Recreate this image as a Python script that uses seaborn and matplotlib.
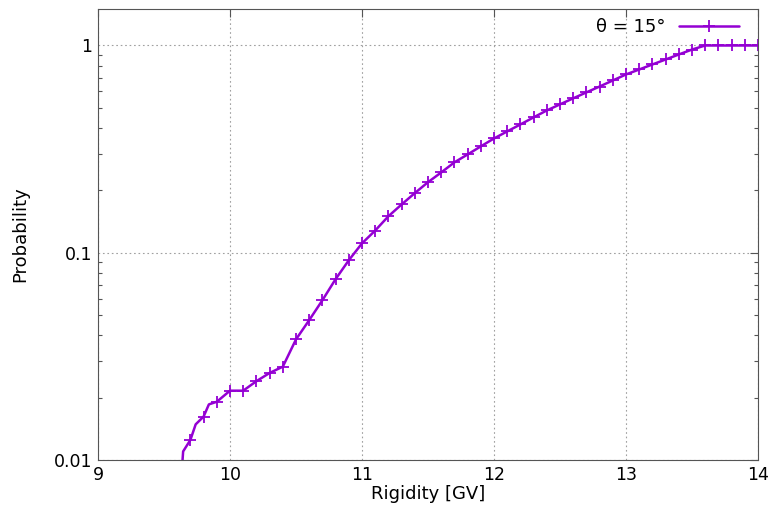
import matplotlib
matplotlib.use("Agg")
import matplotlib.pyplot as plt
import seaborn as sns
import numpy as np
from matplotlib.ticker import LogLocator, FixedLocator, NullFormatter

# Data
rigidity = [9.64, 9.645, 9.70, 9.74, 9.80, 9.84, 9.90, 10.0, 10.1, 10.2, 10.3, 10.4,
            10.5, 10.6, 10.7, 10.8, 10.9, 11.0, 11.1, 11.2, 11.3, 11.4, 11.5, 11.6,
            11.7, 11.8, 11.9, 12.0, 12.1, 12.2, 12.3, 12.4, 12.5, 12.6, 12.7, 12.8,
            12.9, 13.0, 13.1, 13.2, 13.3, 13.4, 13.5, 13.6, 13.7, 13.8, 13.9, 14.0]
probability = [0.0099, 0.0110, 0.0125, 0.01486, 0.0162, 0.01855, 0.0191, 0.0216, 0.0216,
               0.0240, 0.0263, 0.0282, 0.0382, 0.0473, 0.0590, 0.0746, 0.0920, 0.111,
               0.128, 0.150, 0.171, 0.194, 0.219, 0.244, 0.273, 0.298, 0.326, 0.356,
               0.385, 0.416, 0.450, 0.486, 0.520, 0.556, 0.594, 0.634, 0.678, 0.725,
               0.766, 0.810, 0.856, 0.905, 0.956, 1.0, 1.0, 1.0, 1.0, 1.0]
series_label = "θ = 15°"
x_ticks = [9, 10, 11, 12, 13, 14]
y_ticks = [0.01, 0.1, 1]
y_tick_labels = ["0.01", "0.1", "1"]

# markers only at multiples of 0.1
mark_idx = [i for i, v in enumerate(rigidity) if abs(v * 10 - round(v * 10)) < 1e-6]

sns.set_style("white")
plt.rcParams['font.family'] = ['DejaVu Sans']
plt.rcParams['text.color'] = 'black'
plt.rcParams['axes.labelcolor'] = 'black'

fig = plt.figure(figsize=(7.72, 5.08), dpi=100)
ax = fig.add_axes([98 / 772, 48 / 508, 660 / 772, 451 / 508])

color = "#9400D3"
sns.lineplot(x=rigidity, y=probability, ax=ax, color=color, linewidth=1.8,
             sort=False, estimator=None, label=series_label)
line = ax.lines[0]
line.set_linestyle("-")
line.set_marker("+")
line.set_markersize(8)
line.set_markeredgewidth(1.3)
line.set_markeredgecolor(color)
line.set_markerfacecolor(color)
line.set_markevery(mark_idx)

ax.set_yscale("log")
ax.set_xlim(9, 14)
ax.set_ylim(0.01, 1.5)

ax.xaxis.set_major_locator(FixedLocator(x_ticks))
ax.set_xticklabels([str(t) for t in x_ticks])
ax.yaxis.set_major_locator(FixedLocator(y_ticks))
ax.set_yticklabels(y_tick_labels)
ax.yaxis.set_minor_locator(LogLocator(base=10, subs=np.arange(2, 10)))
ax.yaxis.set_minor_formatter(NullFormatter())

ax.tick_params(axis="both", which="major", direction="in", length=6, width=0.8,
               top=True, right=True, labelsize=12.5, colors="#555555", labelcolor="black", pad=4)
ax.tick_params(axis="y", which="minor", direction="in", length=3, width=0.8,
               left=True, right=True, colors="#555555")

ax.grid(True, which="major", color="#a0a0a0", linestyle=(0, (1.5, 2.5)), linewidth=0.8)
for s in ax.spines.values():
    s.set_color("#555555")
    s.set_linewidth(0.8)

ax.set_xlabel("Rigidity [GV]", fontsize=13, labelpad=1, color="black")
ax.set_ylabel("Probability", fontsize=13, labelpad=18, color="black")

leg = ax.legend(handles=[line], labels=[series_label], loc="upper right",
                bbox_to_anchor=(0.985, 1.0), frameon=False,
                markerfirst=False, handlelength=3.3, fontsize=13, borderaxespad=0.1,
                handletextpad=0.8, labelcolor="black")

fig.savefig("out.png", dpi=100)
